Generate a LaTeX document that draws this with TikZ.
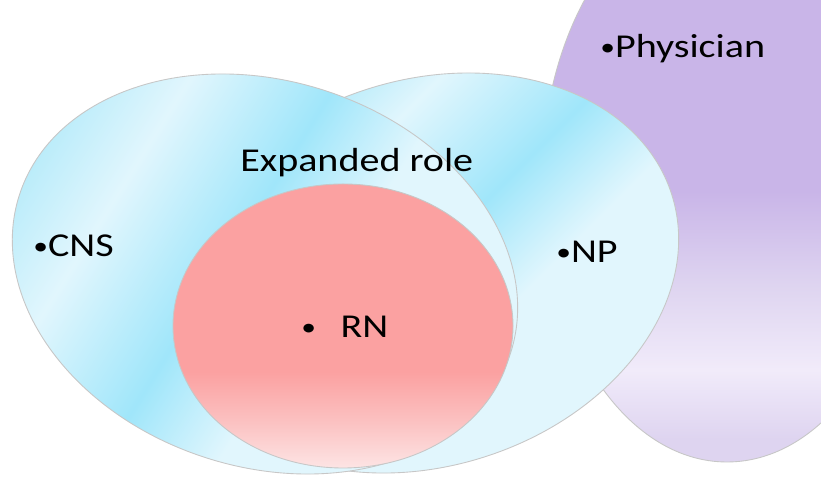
\documentclass[tikz,border=0pt]{standalone}
\usepackage{fontspec}
\setmainfont{Carlito}[FakeStretch=1.2]

\definecolor{lilac}{RGB}{201,181,232}
\definecolor{lilacmid}{RGB}{222,212,240}
\definecolor{lilaclight}{RGB}{241,235,250}
\definecolor{cyandark}{RGB}{160,230,250}
\definecolor{cyanmid}{RGB}{186,236,250}
\definecolor{cyanlight}{RGB}{225,246,253}
\definecolor{rose}{RGB}{251,161,161}
\definecolor{rosemid}{RGB}{251,192,192}
\definecolor{roselight}{RGB}{253,228,228}

\pgfdeclareverticalshading{physshade}{100bp}{color(0bp)=(lilacmid); color(27bp)=(lilacmid);
  color(33.2bp)=(lilaclight); color(40.7bp)=(lilacmid); color(49bp)=(lilac); color(100bp)=(lilac)}
\pgfdeclarehorizontalshading{npband}{100bp}{color(0bp)=(cyanmid); color(33bp)=(cyanmid);
  color(38.5bp)=(cyanlight); color(49.2bp)=(cyandark); color(57.5bp)=(cyanlight); color(100bp)=(cyanlight)}
\pgfdeclarehorizontalshading{cnsband}{100bp}{color(0bp)=(cyanmid); color(27bp)=(cyanmid);
  color(35bp)=(cyanlight); color(46.4bp)=(cyandark); color(55.4bp)=(cyanlight); color(100bp)=(cyanlight)}
\pgfdeclareverticalshading{rnshade}{100bp}{color(0bp)=(roselight); color(25bp)=(roselight);
  color(33.5bp)=(rosemid); color(41.9bp)=(rose); color(100bp)=(rose)}

\newcommand{\blt}{\raisebox{1.6pt}{\fontsize{14}{14}\selectfont •}}

\begin{document}
\begin{tikzpicture}[x=0.2mm,y=0.2mm,
                    rim/.style={draw=black!22,line width=0.5pt},
                    lbl/.style={font=\fontsize{19}{22}\selectfont,inner sep=0pt,anchor=base west}]
  \clip (0,0) rectangle (821,479);
  \fill[white] (0,0) rectangle (821,479);

  \coordinate (phys) at (727,299);
  \coordinate (np)   at (426,206);
  \coordinate (cns)  at (265,205);
  \coordinate (rn)   at (343,153);

  % physician, at the back
  \shade[rim,shading=physshade] (phys) ellipse [x radius=185,y radius=282];

  % NP
  \begin{scope}
    \clip[rotate around={17.8:(np)}] (np) ellipse [x radius=258,y radius=193];
    \shade[shading=npband,shading angle=-45] (np) +(-280,-280) rectangle +(280,280);
  \end{scope}
  \draw[rim,rotate around={17.8:(np)}] (np) ellipse [x radius=258,y radius=193];

  % CNS
  \begin{scope}
    \clip[rotate around={-17.8:(cns)}] (cns) ellipse [x radius=258,y radius=193];
    \shade[shading=cnsband,shading angle=-32] (cns) +(-280,-280) rectangle +(280,280);
  \end{scope}
  \draw[rim,rotate around={-17.8:(cns)}] (cns) ellipse [x radius=258,y radius=193];

  % RN
  \shade[rim,shading=rnshade] (rn) ellipse [x radius=170,y radius=142];

  \node[lbl] (physician) at (600,421) {\blt Physician};
  \node[lbl] (role)      at (240,307) {Expanded role};
  \node[lbl] (cnslabel)  at (33,222)  {\blt CNS};
  \node[lbl] (nplabel)   at (556,216) {\blt NP};
  \node[lbl] (rnlabel)   at (301,141) {\blt\hspace{14pt}RN};
\end{tikzpicture}
\end{document}
